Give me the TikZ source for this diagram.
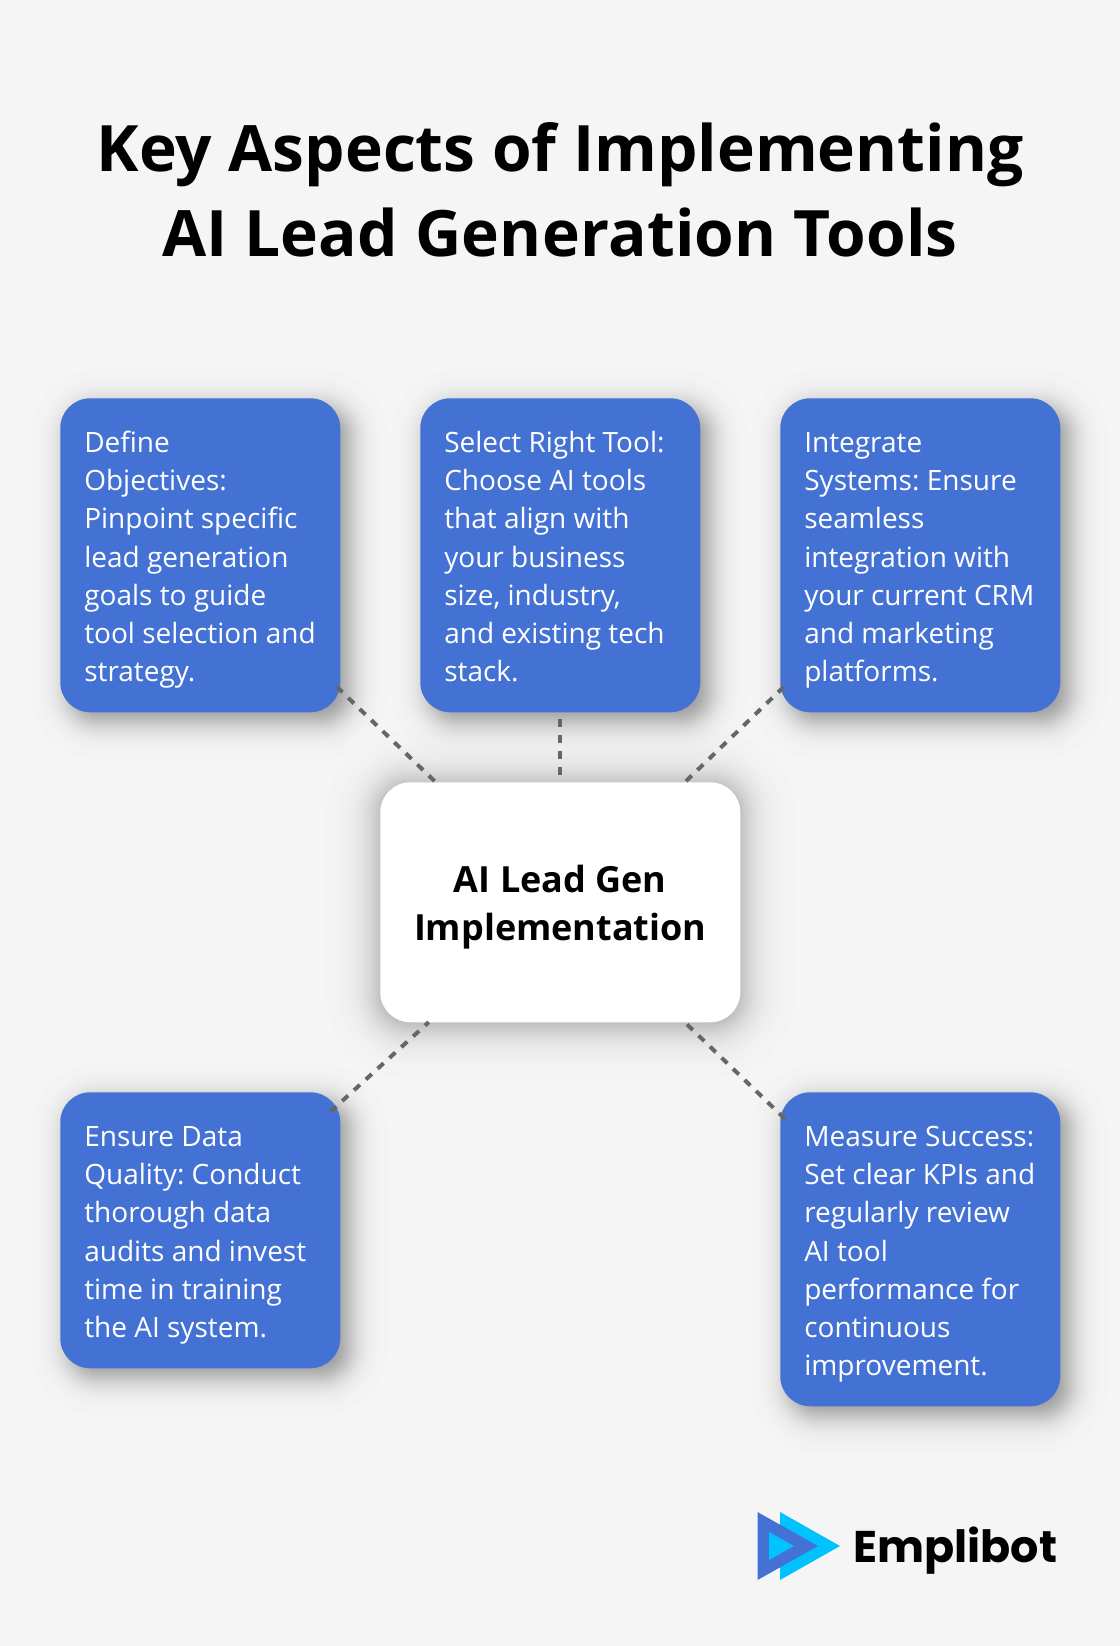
\documentclass[tikz,border=0pt]{standalone}
\usepackage{fontspec}
\setmainfont{Open Sans}
\newfontfamily\logofont{Poppins}
\usetikzlibrary{calc}
\pgfdeclarelayer{bg}
\pgfsetlayers{bg,main}
\definecolor{pagebg}{HTML}{F5F5F5}
\definecolor{boxblue}{HTML}{4472D4}
\definecolor{logocyan}{HTML}{00C2FF}
\definecolor{linegrey}{HTML}{666666}
\newcommand{\softshadow}[5]{% node, dx, dy, sigma, opacity per step
  \foreach \k in {1,...,50}{
    \pgfmathsetmacro{\pp}{(\k-0.5)/50}
    \pgfmathsetmacro{\g}{#4*ln(\pp/(1-\pp))/1.702}
    \pgfmathsetmacro{\rr}{max(2,30+\g)*0.75}
    \fill[black,opacity=#5,rounded corners=\rr pt]
      ($(#1.north west)+(#2-\g,#3-\g)$) rectangle ($(#1.south east)+(#2+\g,#3+\g)$);
  }
}
\newcommand{\boxlines}[1]{\vbox{\kern6.2pt\hbox to 210pt{\kern18pt\begin{tabular}{@{}l@{}}#1\end{tabular}\hss}}}
\newcommand{\hublines}[1]{\vbox{\kern7pt\hbox{\begin{tabular}{@{}c@{}}#1\end{tabular}}}}
\tikzset{
  x=0.75pt,y=-0.75pt,
  bluebox/.style={fill=boxblue,text=white,rounded corners=22.5pt,anchor=north west,
    minimum width=210pt,inner sep=0pt,
    font=\frenchspacing\fontsize{21}{28.55}\selectfont},
  hubbox/.style={fill=white,text=black,rounded corners=22.5pt,anchor=north west,
    minimum width=270pt,minimum height=180pt,inner sep=0pt,
    font=\fontsize{27}{36.4}\selectfont\bfseries},
  titletext/.style={text=black,align=center,inner sep=0pt,
    font=\fontsize{48}{63.6}\selectfont\bfseries},
  spoke/.style={draw=linegrey,line width=3pt,dash pattern=on 6pt off 6pt},
  logotext/.style={text=black,inner sep=0pt,anchor=base west,font=\logofont\fontsize{33.3}{40}\selectfont\bfseries}
}
\begin{document}
\begin{tikzpicture}
\useasboundingbox (0,0) rectangle (1120,1646);
\node[titletext] (title) at (560,190) {Key Aspects of Implementing\\{\addfontfeatures{LetterSpace=0.37}AI Lead Generation Tools}};
\node[bluebox,minimum height=235.5pt] (define) at (60,398) {\boxlines{Define\\Objectives:\\Pinpoint specific\\lead generation\\goals to guide\\tool selection and\\strategy.}};
\node[bluebox,minimum height=235.5pt] (select) at (420,398) {\boxlines{Select Right Tool:\\Choose AI tools\\that align with\\your business\\size, industry,\\and existing tech\\stack.}};
\node[bluebox,minimum height=235.5pt] (integrate) at (780,398) {\boxlines{Integrate\\Systems: Ensure\\seamless\\integration with\\your current CRM\\and marketing\\platforms.}};
\node[hubbox] (hub) at (380,782) {\hublines{AI Lead Gen\\Implementation}};
\node[bluebox,minimum height=207pt] (quality) at (60,1092) {\boxlines{Ensure Data\\Quality: Conduct\\thorough data\\audits and invest\\time in training\\the AI system.}};
\node[bluebox,minimum height=235.5pt] (measure) at (780,1092) {\boxlines{Measure Success:\\Set clear KPIs and\\regularly review\\AI tool\\performance for\\continuous\\improvement.}};
\node[logotext] (brand) at (853,1562) {Emplibot};
\coordinate (logoA) at (780,1512);
\coordinate (logoB) at (780,1580);
\coordinate (logoC) at (840,1546);
\fill[logocyan] (logoA) -- (logoC) -- (logoB) -- cycle;
\fill[boxblue] (757.5,1512) -- (818,1546) -- (757.5,1580) -- cycle;
\fill[logocyan] (769,1532) -- (794,1546) -- (769,1560) -- cycle;
\draw[spoke,shorten <=142.1pt,shorten >=131pt] (define.center) -- (hub.center);
\draw[spoke,shorten <=122.5pt,shorten >=93.75pt] (select.center) -- (hub.center);
\draw[spoke,shorten <=142.1pt,shorten >=131pt] (integrate.center) -- (hub.center);
\draw[spoke,shorten <=132pt,shorten >=133.5pt] (quality.center) -- (hub.center);
\draw[spoke,shorten <=141pt,shorten >=131pt] (measure.center) -- (hub.center);
\begin{pgfonlayer}{bg}
\fill[pagebg] (0,0) rectangle (1120,1646);
\softshadow{hub}{0}{2}{20}{0.006}
\foreach \n in {define,select,integrate,quality,measure}{
  \softshadow{\n}{9}{9}{14}{0.009}
}
\end{pgfonlayer}
\end{tikzpicture}
\end{document}
